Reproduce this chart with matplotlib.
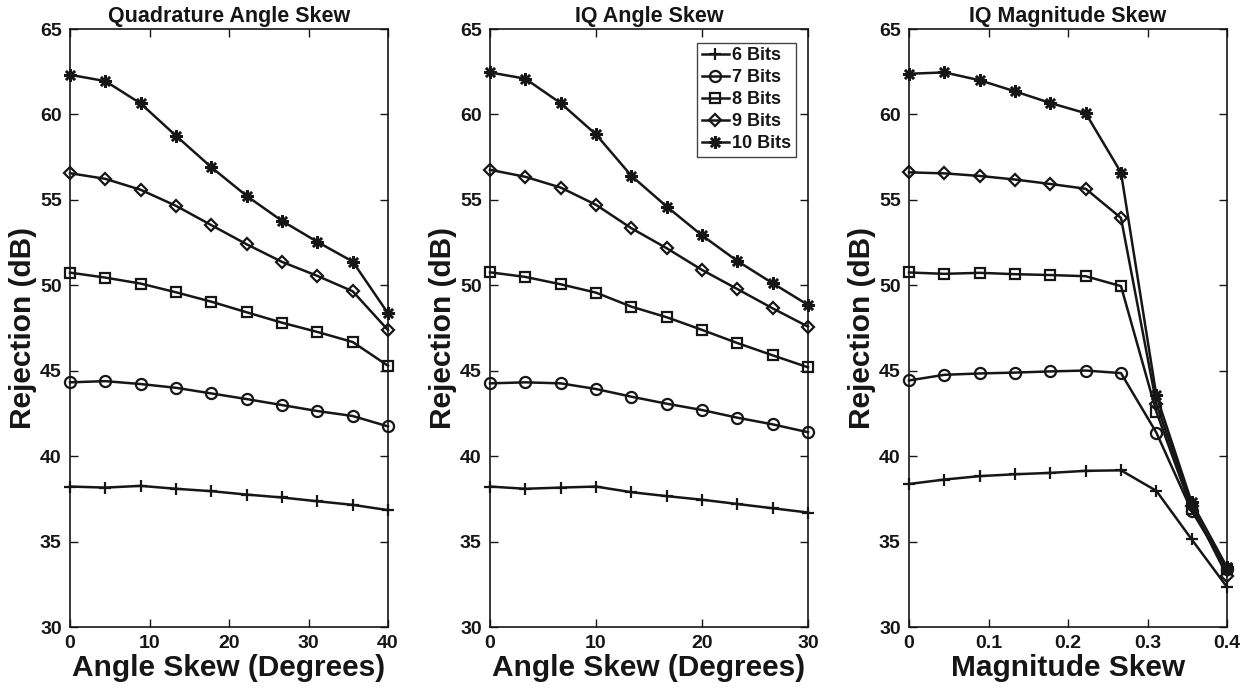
import numpy as np
import matplotlib
matplotlib.use("Agg")
import matplotlib.pyplot as plt

plt.rcParams['font.family'] = ['Liberation Sans', 'DejaVu Sans']
plt.rcParams['font.weight'] = 'bold'

ink = '#161616'

# sweep points for each panel
quad_angle = np.linspace(0, 40, 10)
iq_angle = np.linspace(0, 30, 10)
iq_mag = np.linspace(0, 0.4, 10)

bits = ['6 Bits', '7 Bits', '8 Bits', '9 Bits', '10 Bits']

# rejection (dB) vs quadrature angle skew
quad_6 = [38.22, 38.16, 38.26, 38.09, 37.95, 37.75, 37.58, 37.36, 37.15, 36.84]
quad_7 = [44.32, 44.39, 44.22, 44.00, 43.67, 43.34, 42.99, 42.64, 42.35, 41.74]
quad_8 = [50.74, 50.45, 50.10, 49.59, 49.04, 48.42, 47.81, 47.27, 46.68, 45.29]
quad_9 = [56.56, 56.23, 55.59, 54.65, 53.52, 52.40, 51.37, 50.55, 49.65, 47.38]
quad_10 = [62.32, 61.95, 60.64, 58.75, 56.91, 55.23, 53.77, 52.54, 51.39, 48.36]

# rejection (dB) vs IQ angle skew
iqa_6 = [38.22, 38.09, 38.16, 38.22, 37.89, 37.66, 37.45, 37.20, 36.95, 36.70]
iqa_7 = [44.26, 44.32, 44.26, 43.93, 43.48, 43.07, 42.70, 42.25, 41.86, 41.40]
iqa_8 = [50.76, 50.49, 50.06, 49.57, 48.75, 48.13, 47.39, 46.62, 45.90, 45.20]
iqa_9 = [56.76, 56.35, 55.72, 54.71, 53.34, 52.17, 50.90, 49.78, 48.65, 47.58]
iqa_10 = [62.46, 62.09, 60.66, 58.83, 56.41, 54.61, 52.92, 51.42, 50.12, 48.85]

# rejection (dB) vs IQ magnitude skew
iqm_6 = [38.37, 38.63, 38.83, 38.94, 39.02, 39.14, 39.17, 37.97, 35.13, 32.34]
iqm_7 = [44.43, 44.76, 44.84, 44.89, 44.96, 45.01, 44.86, 41.38, 36.80, 33.40]
iqm_8 = [50.75, 50.67, 50.73, 50.65, 50.60, 50.53, 49.95, 42.60, 36.90, 33.40]
iqm_9 = [56.61, 56.55, 56.40, 56.19, 55.93, 55.65, 53.94, 43.07, 37.10, 33.00]
iqm_10 = [62.38, 62.46, 62.00, 61.35, 60.67, 60.07, 56.60, 43.56, 37.30, 33.50]

markers = [
    dict(marker='+', ms=8, mew=1.6),
    dict(marker='o', ms=8, mew=1.6, mfc='none'),
    dict(marker='s', ms=6.5, mew=1.6, mfc='none'),
    dict(marker='D', ms=6, mew=1.6, mfc='none'),
    dict(marker=(8, 2, 0), ms=9, mew=1.8),
]

panels = [
    ('Quadrature Angle Skew', quad_angle,
     [quad_6, quad_7, quad_8, quad_9, quad_10],
     'Angle Skew (Degrees)', [0, 10, 20, 30, 40], ['0', '10', '20', '30', '40']),
    ('IQ Angle Skew', iq_angle,
     [iqa_6, iqa_7, iqa_8, iqa_9, iqa_10],
     'Angle Skew (Degrees)', [0, 10, 20, 30], ['0', '10', '20', '30']),
    ('IQ Magnitude Skew', iq_mag,
     [iqm_6, iqm_7, iqm_8, iqm_9, iqm_10],
     'Magnitude Skew', [0, 0.1, 0.2, 0.3, 0.4], ['0', '0.1', '0.2', '0.3', '0.4']),
]

fig = plt.figure(figsize=(12.56, 6.96), dpi=100)
lefts = [70, 490, 909]

for i, (title, x, series, xlab, xt, xtl) in enumerate(panels):
    ax = fig.add_axes([lefts[i] / 1256, 69 / 696, 318 / 1256, 598 / 696])
    for ys, lab, mk in zip(series, bits, markers):
        ax.plot(x, ys, color=ink, lw=1.8, mec=ink, label=lab, clip_on=False, **mk)
    ax.set_xlim(x[0], x[-1])
    ax.set_ylim(30, 65)
    ax.set_xticks(xt)
    ax.set_xticklabels(xtl)
    ax.set_yticks([30, 35, 40, 45, 50, 55, 60, 65])
    ax.tick_params(direction='in', top=True, right=True, length=6, width=1,
                   colors=ink, labelsize=14, pad=6)
    for sp in ax.spines.values():
        sp.set_color(ink)
        sp.set_linewidth(1.2)
    ax.set_title(title, fontsize=15.5, fontweight='bold', color=ink, pad=5)
    ax.set_xlabel(xlab, fontsize=21.5, fontweight='bold', color=ink, labelpad=1)
    ax.set_ylabel('Rejection (dB)', fontsize=21.5, fontweight='bold', color=ink, labelpad=2)
    if i == 1:
        leg = ax.legend(loc='upper right', bbox_to_anchor=(0.962, 0.977),
                        fontsize=13, frameon=True, fancybox=False,
                        handlelength=1.5, handletextpad=0.2, borderpad=0.25,
                        labelspacing=0.28, borderaxespad=0)
        leg.get_frame().set_edgecolor(ink)
        leg.get_frame().set_linewidth(1.0)
        for t in leg.get_texts():
            t.set_color(ink)

fig.savefig('out.png', dpi=100)
